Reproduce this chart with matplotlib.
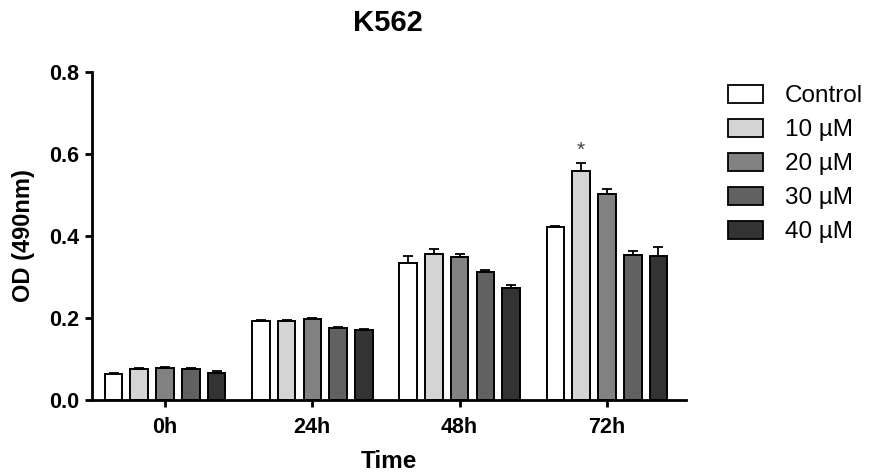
import numpy as np
import matplotlib.pyplot as plt

plt.rcParams['font.family'] = ['Liberation Sans', 'DejaVu Sans']

times = ['0h', '24h', '48h', '72h']
groups = ['Control', '10 \u00b5M', '20 \u00b5M', '30 \u00b5M', '40 \u00b5M']
colors = ['#ffffff', '#d4d4d4', '#828282', '#616161', '#333333']

means = {
    'Control': [0.063, 0.193, 0.335, 0.421],
    '10 \u00b5M': [0.075, 0.193, 0.355, 0.559],
    '20 \u00b5M': [0.079, 0.197, 0.348, 0.502],
    '30 \u00b5M': [0.075, 0.175, 0.311, 0.354],
    '40 \u00b5M': [0.067, 0.171, 0.272, 0.351],
}
errs = {
    'Control': [0.003, 0.003, 0.016, 0.003],
    '10 \u00b5M': [0.004, 0.003, 0.013, 0.018],
    '20 \u00b5M': [0.002, 0.003, 0.007, 0.013],
    '30 \u00b5M': [0.002, 0.002, 0.007, 0.009],
    '40 \u00b5M': [0.004, 0.002, 0.008, 0.021],
}
star_pos = (3, '10 \u00b5M')

W, H = 872, 476
fig = plt.figure(figsize=(W / 100, H / 100), dpi=100)
ax = fig.add_axes([92 / W, 1 - 400 / H, 594 / W, 328 / H])

x = np.arange(len(times))
pitch = 0.175
width = 0.12
for i, g in enumerate(groups):
    pos = x + (i - 2) * pitch
    ax.bar(pos, means[g], width=width, color=colors[i], edgecolor='black',
           linewidth=1.4, label=g, zorder=2)
    ax.errorbar(pos, means[g], yerr=[np.zeros(len(times)), errs[g]], fmt='none',
                ecolor='black', elinewidth=1.3, capsize=3.5, capthick=1.3, zorder=1)

# significance mark
ti, tg = star_pos
sx = ti + (groups.index(tg) - 2) * pitch
sy = means[tg][ti] + errs[tg][ti] + 0.008
ax.text(sx, sy, '*', ha='center', va='bottom', fontsize=15, color='#444444')

ax.set_xlim(-0.496, 3.537)
ax.set_ylim(0, 0.8)
ax.set_yticks([0.0, 0.2, 0.4, 0.6, 0.8])
ax.set_yticklabels(['0.0', '0.2', '0.4', '0.6', '0.8'])
ax.set_xticks(x)
ax.set_xticklabels(times)
for lbl in ax.get_xticklabels() + ax.get_yticklabels():
    lbl.set_fontweight('bold')
    lbl.set_fontsize(15.5)
ax.tick_params(direction='out', length=5, width=2)
ax.tick_params(axis='y', pad=4.5)
ax.tick_params(axis='x', pad=7)
ax.spines['top'].set_visible(False)
ax.spines['right'].set_visible(False)
ax.spines['left'].set_linewidth(2)
ax.spines['bottom'].set_linewidth(2)

ax.set_ylabel('OD (490nm)', fontsize=17, fontweight='bold', labelpad=10)
ax.set_xlabel('Time', fontsize=17.5, fontweight='bold', labelpad=9)
fig.text(388 / W, 1 - 23 / H, 'K562', ha='center', va='center',
         fontsize=21, fontweight='bold')

leg = fig.legend(*ax.get_legend_handles_labels(), loc='upper left',
                 bbox_to_anchor=(728 / W, 1 - 85 / H), frameon=False,
                 fontsize=17.5, handlelength=1.44, handleheight=0.74,
                 labelspacing=0.48, handletextpad=0.9,
                 borderpad=0, borderaxespad=0)
for h in leg.legend_handles:
    h.set_linewidth(1.3)

fig.savefig('out.png', dpi=100)
